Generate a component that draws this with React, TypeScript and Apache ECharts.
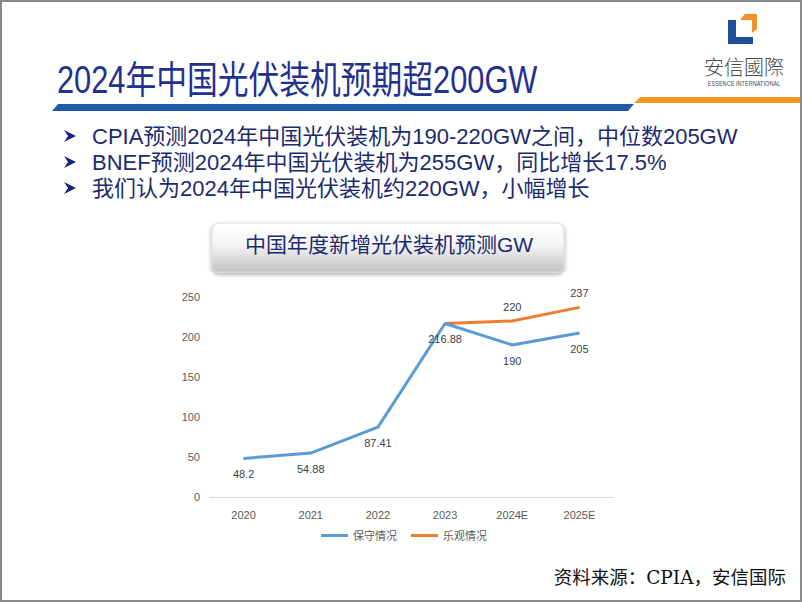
import React, { useEffect, useRef } from "react";
import * as echarts from "echarts";

const categories = ["2020", "2021", "2022", "2023", "2024E", "2025E"];
const conservative = [48.2, 54.88, 87.41, 216.88, 190, 205];
const optimistic: (number | null)[] = [null, null, null, 216.88, 220, 237];
const seriesNames = ["保守情况", "乐观情况"];
const pageTitle = "2024年中国光伏装机预期超200GW";
const bullets = [
  "CPIA预测2024年中国光伏装机为190-220GW之间，中位数205GW",
  "BNEF预测2024年中国光伏装机为255GW，同比增长17.5%",
  "我们认为2024年中国光伏装机约220GW，小幅增长",
];
const chartTitle = "中国年度新增光伏装机预测GW";
const sourceText = "资料来源：CPIA，安信国际";

const NAVY = "#1c2a6e";
const CJK = '"Liberation Sans", "Noto Sans CJK SC", sans-serif';

export default function App() {
  const ref = useRef<HTMLDivElement>(null);
  useEffect(() => {
    if (!ref.current) return;
    const chart = echarts.init(ref.current, null, { renderer: "svg" });
    const bulletEls: any[] = [];
    bullets.forEach((b, i) => {
      const y = 136 + i * 26;
      bulletEls.push({
        type: "polygon",
        shape: { points: [[64, y - 6], [76, y], [64, y + 6], [68, y]] },
        style: { fill: "#1a237e" },
      });
      bulletEls.push({
        type: "text",
        x: 92,
        y,
        style: { text: b, fontSize: 22, fontFamily: CJK, fill: NAVY, verticalAlign: "middle" },
      });
    });
    chart.setOption({
      animation: false,
      backgroundColor: "#ffffff",
      graphic: [
        {
          type: "rect",
          shape: { x: 1, y: 1, width: 800, height: 600 },
          style: { fill: "none", stroke: "#8a8a8a", lineWidth: 2 },
          z: 100,
        },
        {
          type: "text",
          x: 57,
          y: 80,
          scaleX: 0.81,
          style: {
            text: pageTitle,
            fontSize: 38,
            fontFamily: CJK,
            fill: "#22318f",
            verticalAlign: "middle",
          },
        },
        {
          type: "polygon",
          shape: { points: [[58, 104], [634, 104], [628, 111], [52, 111]] },
          style: { fill: "#1f5ca8" },
        },
        {
          type: "polygon",
          shape: { points: [[640, 97], [802, 97], [802, 103], [634, 103]] },
          style: { fill: "#f39a1e" },
        },
        {
          type: "polygon",
          shape: { points: [[745, 14], [757, 14], [757, 29], [752, 33], [752, 20], [740, 20]] },
          style: { fill: "#f0902a" },
        },
        {
          type: "polygon",
          shape: { points: [[728, 20], [736, 20], [736, 37], [753, 37], [753, 44], [728, 44]] },
          style: { fill: "#1f4e9a" },
        },
        {
          type: "text",
          x: 744,
          y: 66,
          style: {
            text: "安信國際",
            fontSize: 20,
            fontFamily: '"Noto Sans CJK TC", sans-serif',
            fontWeight: 300,
            fill: "#4a4a4a",
            align: "center",
            verticalAlign: "middle",
          },
        },
        {
          type: "text",
          x: 744,
          y: 83,
          scaleX: 0.8,
          style: {
            text: "ESSENCE INTERNATIONAL",
            fontSize: 7,
            fontFamily: "Liberation Sans",
            fill: "#4a4a4a",
            align: "center",
            verticalAlign: "middle",
          },
        },
        ...bulletEls,
        {
          type: "rect",
          shape: { x: 212, y: 223, width: 352, height: 49, r: 7 },
          style: {
            fill: new echarts.graphic.LinearGradient(0, 0, 0, 1, [
              { offset: 0, color: "#ffffff" },
              { offset: 0.45, color: "#f4f4f4" },
              { offset: 1, color: "#c2c2c2" },
            ]),
            stroke: "#dcdcdc",
            lineWidth: 1,
            shadowBlur: 4,
            shadowOffsetY: 2,
            shadowColor: "rgba(0,0,0,0.35)",
          },
        },
        {
          type: "text",
          x: 389,
          y: 244,
          style: {
            text: chartTitle,
            fontSize: 21,
            fontFamily: CJK,
            fill: NAVY,
            align: "center",
            verticalAlign: "middle",
          },
        },
        {
          type: "text",
          x: 786,
          y: 577,
          style: {
            text: sourceText,
            fontSize: 18.5,
            fontFamily: '"DejaVu Serif", "Noto Sans CJK SC", serif',
            fill: "#111111",
            align: "right",
            verticalAlign: "middle",
          },
        },
      ],
      grid: { left: 210, right: 189, top: 297, bottom: 105 },
      legend: {
        data: seriesNames,
        bottom: 56,
        left: 316,
        icon: "rect",
        itemWidth: 27,
        itemHeight: 3,
        itemGap: 14,
        textStyle: { color: "#595959", fontSize: 11, fontFamily: CJK },
      },
      xAxis: {
        type: "category",
        data: categories,
        boundaryGap: true,
        axisLine: { lineStyle: { color: "#d9d9d9" } },
        axisTick: { show: false },
        axisLabel: { color: "#595959", fontSize: 11, margin: 12, fontFamily: CJK },
      },
      yAxis: {
        type: "value",
        min: 0,
        max: 250,
        interval: 50,
        splitLine: { show: false },
        axisLine: { show: false },
        axisTick: { show: false },
        axisLabel: { color: "#595959", fontSize: 11, margin: 10, fontFamily: CJK },
      },
      series: [
        {
          name: seriesNames[0],
          type: "line",
          data: conservative,
          showSymbol: true,
          symbol: "circle",
          symbolSize: 1,
          lineStyle: { color: "#5b9bd5", width: 3 },
          itemStyle: { color: "#5b9bd5" },
          label: {
            show: true,
            position: "bottom",
            distance: 10,
            color: "#404040",
            fontSize: 11,
            fontFamily: CJK,
          },
          z: 3,
        },
        {
          name: seriesNames[1],
          type: "line",
          data: optimistic,
          showSymbol: true,
          symbol: "circle",
          symbolSize: 1,
          lineStyle: { color: "#ed7d31", width: 3 },
          itemStyle: { color: "#ed7d31" },
          label: {
            show: true,
            position: "top",
            distance: 8,
            color: "#404040",
            fontSize: 11,
            fontFamily: CJK,
            formatter: (p: any) => (p.dataIndex === 3 ? "" : String(p.value)),
          },
          z: 2,
        },
      ],
    });
    return () => chart.dispose();
  }, []);
  return (
    <div
      ref={ref}
      style={{ position: "absolute", left: 0, top: 0, width: 802, height: 602 }}
    />
  );
}
